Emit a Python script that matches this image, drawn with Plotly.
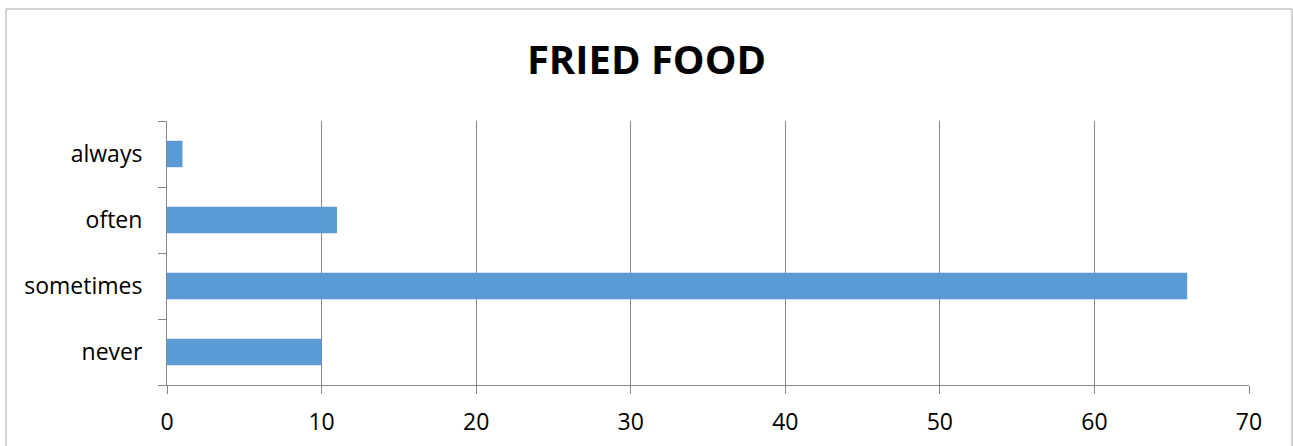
import plotly.graph_objects as go

categories = ["never", "sometimes", "often", "always"]
counts = [10, 66, 11, 1]
x_ticks = [0, 10, 20, 30, 40, 50, 60, 70]

W, H = 1293, 446
L, R, T, B = 167, 44, 121, 61
pw, ph = W - L - R, H - T - B

fig = go.Figure(
    go.Bar(
        x=counts,
        y=categories,
        orientation="h",
        marker=dict(color="#5B9BD5", line=dict(width=0)),
        width=0.4,
    )
)

axis_font = dict(family="Open Sans", size=23, color="#000000")

fig.update_layout(
    width=W,
    height=H,
    margin=dict(l=L, r=R, t=T, b=B),
    paper_bgcolor="white",
    plot_bgcolor="white",
    showlegend=False,
    title=dict(
        text="<b>FRIED FOOD</b>",
        x=0.5,
        xanchor="center",
        y=1 - 60 / H,
        yanchor="middle",
        font=dict(family="Open Sans", size=40, color="#000000"),
    ),
    xaxis=dict(
        range=[0, 70],
        tickvals=x_ticks,
        ticktext=[str(v) for v in x_ticks],
        showgrid=True,
        gridcolor="#868686",
        gridwidth=1,
        showline=True,
        linecolor="#868686",
        linewidth=1,
        ticks="outside",
        ticklen=8,
        tickcolor="#868686",
        tickfont=axis_font,
        ticklabelstandoff=8,
        zeroline=False,
        automargin=False,
        fixedrange=True,
    ),
    yaxis=dict(
        categoryorder="array",
        categoryarray=categories,
        showgrid=False,
        showline=True,
        linecolor="#868686",
        linewidth=1,
        ticks="outside",
        tickson="boundaries",
        ticklen=8,
        tickcolor="#868686",
        tickfont=axis_font,
        ticklabelstandoff=19,
        automargin=False,
        fixedrange=True,
    ),
)

# outer chart border
fig.add_shape(
    type="rect",
    xref="paper",
    yref="paper",
    x0=(6 - L) / pw,
    x1=(1292 - L) / pw,
    y0=(H - 460 - B) / ph,
    y1=(H - 9 - B) / ph,
    line=dict(color="#A6A6A6", width=1),
    fillcolor="rgba(0,0,0,0)",
    layer="below",
)

fig.write_html("out.html")
